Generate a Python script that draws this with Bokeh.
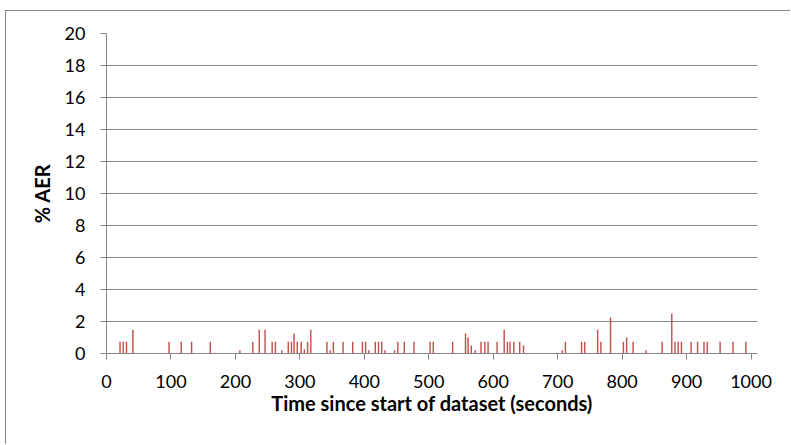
from bokeh.plotting import figure
from bokeh.models import Range1d, FixedTicker, InlineStyleSheet
from bokeh.embed import file_html
from bokeh.resources import INLINE

# Time (seconds) of each AER event and its % AER value
times = [21, 26, 31, 41, 97, 116, 132, 161, 207, 227, 237, 246, 257, 262, 272,
         282, 287, 291, 296, 302, 307, 312, 317, 342, 347, 352, 367, 382, 397,
         402, 407, 417, 422, 427, 432, 447, 452, 462, 477, 502, 507, 537, 557,
         561, 566, 572, 581, 587, 592, 606, 617, 622, 626, 632, 641, 647, 707,
         712, 737, 742, 762, 767, 782, 802, 807, 817, 837, 862, 877, 882, 887,
         892, 907, 917, 927, 932, 952, 972, 992]
aer = [0.74, 0.74, 0.74, 1.48, 0.74, 0.74, 0.74, 0.74, 0.2, 0.74, 1.48, 1.48,
       0.74, 0.74, 0.2, 0.74, 0.74, 1.25, 0.74, 0.74, 0.25, 0.74, 1.48, 0.74,
       0.2, 0.74, 0.74, 0.74, 0.74, 0.74, 0.2, 0.74, 0.74, 0.74, 0.2, 0.2,
       0.74, 0.74, 0.74, 0.74, 0.74, 0.74, 1.25, 1.0, 0.5, 0.2, 0.74, 0.74,
       0.74, 0.74, 1.48, 0.74, 0.74, 0.74, 0.74, 0.5, 0.2, 0.74, 0.74, 0.74,
       1.48, 0.74, 2.25, 0.74, 1.0, 0.74, 0.2, 0.74, 2.5, 0.74, 0.74, 0.74,
       0.74, 0.74, 0.74, 0.74, 0.74, 0.74, 0.74]
x_ticks = [0, 100, 200, 300, 400, 500, 600, 700, 800, 900, 1000]
y_ticks = [0, 2, 4, 6, 8, 10, 12, 14, 16, 18, 20]

GRID = "#868686"
FONT = "Lato"

border_css = InlineStyleSheet(css="""
:host { position: relative; }
:host::after {
  content: '';
  position: absolute;
  left: 5px; top: 10px;
  width: 785px; height: 434px;
  border-left: 1px solid #868686;
  border-top: 1px solid #868686;
  box-sizing: border-box;
  pointer-events: none;
}
""")

p = figure(width=791, height=445, output_backend="svg", toolbar_location=None,
           x_range=Range1d(0, 1010), y_range=Range1d(0, 20),
           min_border_left=106, min_border_right=34, min_border_top=33,
           min_border_bottom=92, stylesheets=[border_css])
p.outline_line_color = None
p.background_fill_color = "white"
p.border_fill_color = "white"

p.vbar(x=times, top=aer, bottom=0, width=2.2, fill_color="#C0504D",
       line_color=None)

p.xgrid.visible = False
p.ygrid.ticker = FixedTicker(ticks=y_ticks)
p.ygrid.grid_line_color = GRID
p.ygrid.grid_line_width = 1

for ax in (p.xaxis, p.yaxis):
    ax.axis_line_color = GRID
    ax.major_tick_line_color = GRID
    ax.major_tick_out = 6
    ax.major_tick_in = 0
    ax.minor_tick_line_color = None
    ax.major_label_text_font = FONT
    ax.major_label_text_font_size = "18px"
    ax.major_label_text_color = "black"
    ax.axis_label_text_font = FONT
    ax.axis_label_text_font_style = "bold"
    ax.axis_label_text_font_size = "20px"
    ax.axis_label_text_color = "black"

p.xaxis.ticker = FixedTicker(ticks=x_ticks)
p.yaxis.ticker = FixedTicker(ticks=y_ticks)
p.xaxis.axis_label = "Time since start of dataset (seconds)"
p.yaxis.axis_label = "% AER"
p.xaxis.major_label_standoff = 15
p.yaxis.major_label_standoff = 15
p.xaxis.axis_label_standoff = 0
p.yaxis.axis_label_standoff = 8

open("out.html", "w").write(file_html(p, INLINE))
